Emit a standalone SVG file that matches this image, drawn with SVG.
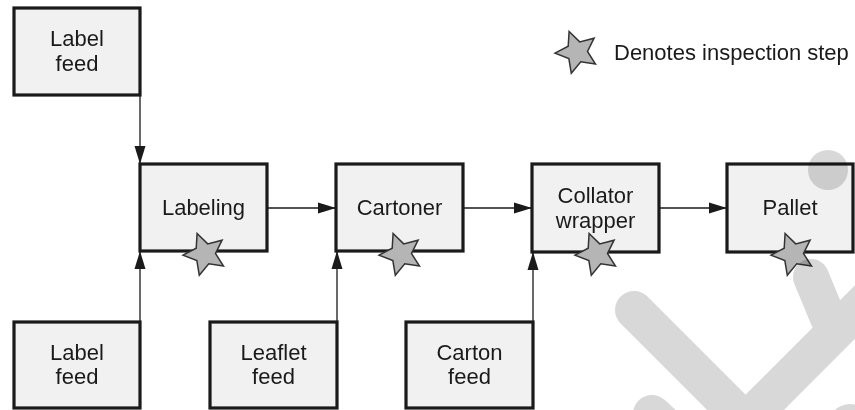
<svg xmlns="http://www.w3.org/2000/svg" width="855" height="410" viewBox="0 0 855 410">
  <style>
    .box { fill: #f0f1f0; stroke: #1a1a1a; stroke-width: 3.2; }
    .lbl { font-family: "Liberation Sans", Arial, sans-serif; font-size: 22px; fill: #1a1a1a; text-anchor: middle; }
    .legend { font-family: "Liberation Sans", Arial, sans-serif; font-size: 22px; fill: #1a1a1a; }
    .conn { stroke: #1a1a1a; stroke-width: 1.3; fill: none; marker-end: url(#arrow); }
    .star { fill: #b5b5b5; stroke: #333333; stroke-width: 1.5; stroke-linejoin: miter; }
    .wm { fill: none; stroke: #d8d8d8; stroke-linecap: round; }
  </style>
  <defs>
    <marker id="arrow" markerUnits="userSpaceOnUse" markerWidth="20" markerHeight="13" refX="18" refY="6" orient="auto">
      <path d="M0,0.5 L18,6 L0,11.5 Z" fill="#1a1a1a"/>
    </marker>
    <path id="starShape" class="star" d="M-7.88,-20.54 L2.72,-10.14 L17.10,-13.84 L10.49,-0.55 L18.45,11.98 L3.76,9.80 L-5.69,21.25 L-8.16,6.61 L-21.97,1.15 L-8.81,-5.72 Z"/>
  </defs>

  <rect width="855" height="410" fill="#ffffff"/>

  <!-- legend -->
  <g id="legend">
    <use href="#starShape" transform="translate(577,52)"/>
    <text class="legend" x="614" y="60">Denotes inspection step</text>
  </g>

  <!-- connectors -->
  <g id="connectors">
    <line class="conn" x1="140" y1="95" x2="140" y2="164"/>
    <line class="conn" x1="140" y1="322" x2="140" y2="251"/>
    <line class="conn" x1="337" y1="322" x2="337" y2="251"/>
    <line class="conn" x1="533" y1="322" x2="533" y2="252"/>
    <line class="conn" x1="267" y1="208" x2="336" y2="208"/>
    <line class="conn" x1="463" y1="208" x2="532" y2="208"/>
    <line class="conn" x1="659" y1="208" x2="727" y2="208"/>
  </g>

  <!-- feed nodes -->
  <g id="label-feed-top">
    <rect class="box" x="14" y="8" width="126" height="87"/>
    <text class="lbl" x="77" y="46">Label</text>
    <text class="lbl" x="77" y="71">feed</text>
  </g>
  <g id="label-feed-bottom">
    <rect class="box" x="14" y="322" width="126" height="86"/>
    <text class="lbl" x="77" y="360">Label</text>
    <text class="lbl" x="77" y="384">feed</text>
  </g>
  <g id="leaflet-feed">
    <rect class="box" x="210" y="322" width="127" height="86"/>
    <text class="lbl" x="273.5" y="360">Leaflet</text>
    <text class="lbl" x="273.5" y="384">feed</text>
  </g>
  <g id="carton-feed">
    <rect class="box" x="406" y="322" width="127" height="86"/>
    <text class="lbl" x="469.5" y="360">Carton</text>
    <text class="lbl" x="469.5" y="384">feed</text>
  </g>

  <!-- process nodes -->
  <g id="labeling">
    <rect class="box" x="140" y="164" width="127" height="87"/>
    <text class="lbl" x="203.5" y="215">Labeling</text>
    <use href="#starShape" transform="translate(205,254)"/>
  </g>
  <g id="cartoner">
    <rect class="box" x="336" y="164" width="127" height="87"/>
    <text class="lbl" x="399.5" y="215">Cartoner</text>
    <use href="#starShape" transform="translate(401,254)"/>
  </g>
  <g id="collator-wrapper">
    <rect class="box" x="532" y="164" width="127" height="88"/>
    <text class="lbl" x="595.5" y="203">Collator</text>
    <text class="lbl" x="595.5" y="228">wrapper</text>
    <use href="#starShape" transform="translate(597,254)"/>
  </g>
  <g id="pallet">
    <rect class="box" x="727" y="164" width="126" height="88"/>
    <text class="lbl" x="790" y="215">Pallet</text>
    <use href="#starShape" transform="translate(793,254)"/>
  </g>

  <!-- faint background mark -->
  <g id="mark" style="mix-blend-mode: multiply">
    <circle cx="828" cy="170" r="20" fill="#d8d8d8"/>
    <line class="wm" x1="634" y1="310" x2="745" y2="421" stroke-width="38"/>
    <line class="wm" x1="870" y1="297" x2="748" y2="419" stroke-width="38"/>
    <line class="wm" x1="811" y1="277" x2="828" y2="318" stroke-width="36"/>
    <line class="wm" x1="652" y1="414" x2="680" y2="440" stroke-width="38"/>
    <circle cx="850" cy="426" r="22" fill="#d8d8d8"/>
  </g>
</svg>
